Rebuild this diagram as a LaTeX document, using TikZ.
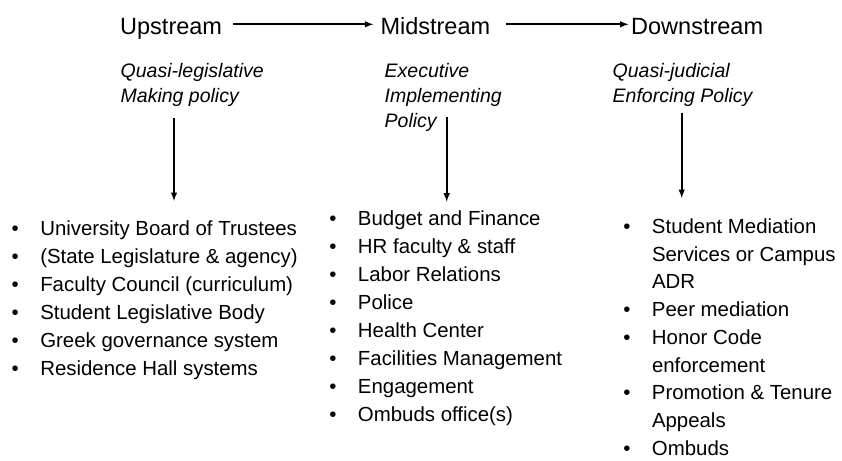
\documentclass[tikz,border=0pt]{standalone}
\usepackage{fontspec}
\setmainfont{Liberation Sans}
\usetikzlibrary{arrows, positioning}

\newcommand{\bul}{\textbullet}

\begin{document}
\begin{tikzpicture}[x=1pt, y=-1pt,
  stage/.style={font=\fontsize{23.5}{28}\selectfont, inner sep=0pt, text height=21.4pt, text depth=0pt, anchor=base west},
  role/.style={font=\fontsize{19.5}{25.2}\selectfont\itshape, inner sep=0pt, anchor=base west},
  unit/.style={font=\fontsize{20.4}{28}\selectfont, inner sep=0pt, anchor=base west},
  flow/.style={->, >=latex, line width=1.9pt}]
  \useasboundingbox (0,0) rectangle (842,460);

  % stages
  \node[stage] (up) at (120,35) {Upstream};
  \node[stage] (mid) at (380.3,35) {Midstream};
  \node[stage] (down) at (631,35) {Downstream};
  \draw[flow, shorten <= 11pt, shorten >= 7pt] (up) -- (mid);
  \draw[flow, shorten <= 16pt, shorten >= 2.5pt] (mid) -- (down);

  % roles
  \node[role] (upsub) at (120.5,77) {\begin{tabular}[t]{@{}l@{}}Quasi-legislative\\Making policy\end{tabular}};
  \node[role] (midsub) at (384.5,77) {\begin{tabular}[t]{@{}l@{}}Executive\\Implementing\\Policy\end{tabular}};
  \node[role] (downsub) at (612.5,77) {\begin{tabular}[t]{@{}l@{}}Quasi-judicial\\Enforcing Policy\end{tabular}};

  % units
  \node[unit] (uplist) at (11.4,235.7) {\begin{tabular}[t]{@{}p{28.7pt}@{}l@{}}
    \bul & University Board of Trustees\\
    \bul & (State Legislature \& agency)\\
    \bul & Faculty Council (curriculum)\\
    \bul & Student Legislative Body\\
    \bul & Greek governance system\\
    \bul & Residence Hall systems
  \end{tabular}};
  \node[unit] (midlist) at (329.1,225) {\begin{tabular}[t]{@{}p{28.7pt}@{}l@{}}
    \bul & Budget and Finance\\
    \bul & HR faculty \& staff\\
    \bul & Labor Relations\\
    \bul & Police\\
    \bul & Health Center\\
    \bul & Facilities Management\\
    \bul & Engagement\\
    \bul & Ombuds office(s)
  \end{tabular}};
  \node[unit, font=\fontsize{20.4}{27.7}\selectfont] (downlist) at (623.1,233.5) {\begin{tabular}[t]{@{}p{28.7pt}@{}l@{}}
    \bul & Student Mediation\\
         & Services or Campus\\
         & ADR\\
    \bul & Peer mediation\\
    \bul & Honor Code\\
         & enforcement\\
    \bul & Promotion \& Tenure\\
         & Appeals\\
    \bul & Ombuds
  \end{tabular}};

  \coordinate (upfrom) at (174,118);
  \coordinate (upto) at (174,201);
  \coordinate (midfrom) at (446.7,116.7);
  \coordinate (midto) at (446.7,201.7);
  \coordinate (downfrom) at (681.7,113);
  \coordinate (downto) at (681.7,198);
  \draw[flow] (upfrom) -- (upto);
  \draw[flow] (midfrom) -- (midto);
  \draw[flow] (downfrom) -- (downto);
\end{tikzpicture}
\end{document}
